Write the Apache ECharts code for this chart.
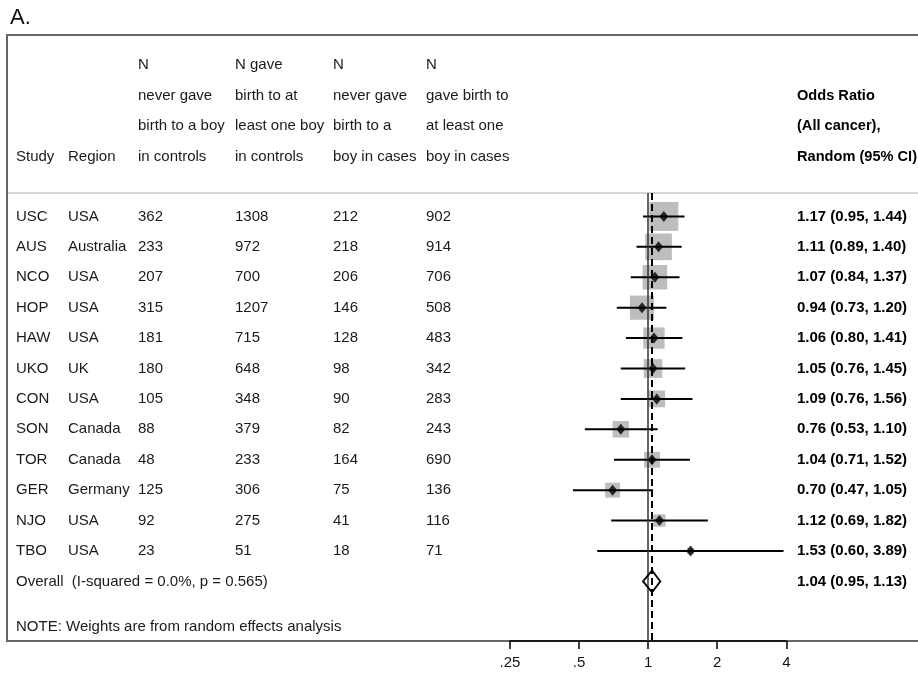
<!DOCTYPE html>
<html><head><meta charset="utf-8">
<script src="https://cdn.jsdelivr.net/npm/echarts@6/dist/echarts.min.js"></script>
<style>html,body{margin:0;padding:0;background:#fff}#c{width:918px;height:674px}</style>
</head><body><div id="c"></div>
<script>
const studies = ['USC','AUS','NCO','HOP','HAW','UKO','CON','SON','TOR','GER','NJO','TBO'];
const regions = ['USA','Australia','USA','USA','USA','UK','USA','Canada','Canada','Germany','USA','USA'];
const neverBoyControls = [362,233,207,315,181,180,105,88,48,125,92,23];
const boyControls = [1308,972,700,1207,715,648,348,379,233,306,275,51];
const neverBoyCases = [212,218,206,146,128,98,90,82,164,75,41,18];
const boyCases = [902,914,706,508,483,342,283,243,690,136,116,71];
const orEst = [1.17,1.11,1.07,0.94,1.06,1.05,1.09,0.76,1.04,0.70,1.12,1.53];
const ciLow = [0.95,0.89,0.84,0.73,0.80,0.76,0.76,0.53,0.71,0.47,0.69,0.60];
const ciHigh = [1.44,1.40,1.37,1.20,1.41,1.45,1.56,1.10,1.52,1.05,1.82,3.89];
const weights = [17.6,14.9,12.7,12.3,9.5,7.3,5.9,5.7,5.3,4.7,3.2,0.9];
const overallOr = 1.04, overallLo = 0.95, overallHi = 1.13;
const overallLabel = 'Overall  (I-squared = 0.0%, p = 0.565)';
const noteLabel = 'NOTE: Weights are from random effects analysis';
const panelLabel = 'A.';
const xTicks = [0.25, 0.5, 1, 2, 4];
const xTickLabels = ['.25', '.5', '1', '2', '4'];
const headerStudy = ['', '', '', 'Study'];
const headerRegion = ['', '', '', 'Region'];
const headerCol3 = ['N', 'never gave', 'birth to a boy', 'in controls'];
const headerCol4 = ['N gave', 'birth to at', 'least one boy', 'in controls'];
const headerCol5 = ['N', 'never gave', 'birth to a', 'boy in cases'];
const headerCol6 = ['N', 'gave birth to', 'at least one', 'boy in cases'];
const headerOR = ['', 'Odds Ratio', '(All cancer),', 'Random (95% CI)'];

const FONT = "'Liberation Sans', Arial, sans-serif";
const chart = echarts.init(document.getElementById('c'), null, {renderer: 'canvas'});

const rows = studies.map((s, i) => i);
const overallRow = studies.length;
const noteRow = studies.length + 1.5;

const option = {
  animation: false,
  backgroundColor: '#fff',
  grid: {left: 510, right: 131.7, top: 193, bottom: 33, containLabel: false, outerBoundsMode: 'none'},
  xAxis: {
    type: 'log', logBase: 2, min: 0.25, max: 4, splitNumber: 4,
    axisLine: {show: true, onZero: false, lineStyle: {color: '#000', width: 1.5}},
    axisTick: {show: true, length: 8, lineStyle: {color: '#000', width: 1.5}},
    axisLabel: {
      color: '#111', fontSize: 15, fontFamily: FONT, margin: 14,
      formatter: v => { const k = xTicks.findIndex(t => Math.abs(t - v) < 1e-6); return k >= 0 ? xTickLabels[k] : ''; }
    },
    splitLine: {show: false}
  },
  yAxis: {type: 'value', inverse: true, min: -0.77, max: 13.96, show: false},
  series: [
    {
      type: 'scatter', name: 'weights', z: 2,
      data: rows.map(i => [orEst[i], i, weights[i]]),
      symbol: 'rect',
      symbolSize: d => 6.9 * Math.sqrt(d[2]),
      itemStyle: {color: '#bdbdbd', opacity: 1},
      markLine: {
        silent: true, symbol: 'none', label: {show: false},
        data: [
          {xAxis: 1, lineStyle: {color: '#333', width: 1.5, type: 'solid'}},
          {xAxis: overallOr, lineStyle: {color: '#000', width: 2, type: [7, 4]}}
        ]
      }
    },
    {
      type: 'custom', name: 'ci', z: 3,
      data: rows.map(i => [ciLow[i], i, ciHigh[i]]),
      encode: {x: [0, 2], y: 1},
      renderItem: (params, api) => {
        const a = api.coord([api.value(0), api.value(1)]);
        const b = api.coord([api.value(2), api.value(1)]);
        return {type: 'line', shape: {x1: a[0], y1: a[1], x2: b[0], y2: b[1]}, style: {stroke: '#000', lineWidth: 2}};
      }
    },
    {
      type: 'scatter', name: 'or', z: 4,
      data: rows.map(i => [orEst[i], i]),
      symbol: 'diamond', symbolSize: [9, 11],
      itemStyle: {color: '#000'}
    },
    {
      type: 'custom', name: 'overall', z: 5,
      data: [[overallLo, overallRow, overallHi, overallOr]],
      encode: {x: [0, 2], y: 1},
      renderItem: (params, api) => {
        const l = api.coord([api.value(0), api.value(1)]);
        const r = api.coord([api.value(2), api.value(1)]);
        const m = api.coord([api.value(3), api.value(1)]);
        const h = 11;
        return {type: 'polygon', shape: {points: [[l[0], l[1]], [m[0], m[1] - h], [r[0], r[1]], [m[0], m[1] + h]]},
          style: {stroke: '#000', lineWidth: 1.8, fill: 'rgba(255,255,255,0)'}};
      }
    }
  ]
};
chart.setOption(option);

const rowY = i => chart.convertToPixel({gridIndex: 0}, [1, i])[1];
const g = [];
const txt = (x, y, s, opt = {}) => g.push({
  type: 'text', x: x, y: y, z: 10, silent: true,
  style: Object.assign({text: s, fill: '#1a1a1a', font: '15px ' + FONT, textVerticalAlign: 'middle', textAlign: 'left'}, opt)
});
g.push({type: 'text', x: 10, y: 18, style: {text: panelLabel, fill: '#111', font: '22px ' + FONT, textVerticalAlign: 'middle'}});
g.push({type: 'rect', shape: {x: 7, y: 35, width: 940, height: 606}, z: 0, silent: true, style: {stroke: '#666', lineWidth: 2, fill: 'none'}});
g.push({type: 'line', shape: {x1: 8, y1: 193, x2: 918, y2: 193}, z: 0, silent: true, style: {stroke: '#d4d4d4', lineWidth: 2}});

const headerY = [65, 95.7, 126.3, 157];
const colX = [16, 68, 138, 235, 333, 426];
const headers = [headerStudy, headerRegion, headerCol3, headerCol4, headerCol5, headerCol6];
headers.forEach((h, c) => h.forEach((s, k) => { if (s) txt(colX[c], headerY[k], s); }));
headerOR.forEach((s, k) => { if (s) txt(797, headerY[k], s, {font: 'bold 14.6px ' + FONT, fill: '#000'}); });

const cols = [studies, regions, neverBoyControls, boyControls, neverBoyCases, boyCases];
rows.forEach(i => {
  const y = rowY(i);
  cols.forEach((arr, c) => txt(colX[c], y, String(arr[i])));
  txt(797, y, orEst[i].toFixed(2) + ' (' + ciLow[i].toFixed(2) + ', ' + ciHigh[i].toFixed(2) + ')', {font: 'bold 15px ' + FONT, fill: '#000'});
});
txt(16, rowY(overallRow), overallLabel);
txt(797, rowY(overallRow), overallOr.toFixed(2) + ' (' + overallLo.toFixed(2) + ', ' + overallHi.toFixed(2) + ')', {font: 'bold 15px ' + FONT, fill: '#000'});
txt(16, rowY(noteRow), noteLabel);

chart.setOption({graphic: g});
</script>
</body></html>
